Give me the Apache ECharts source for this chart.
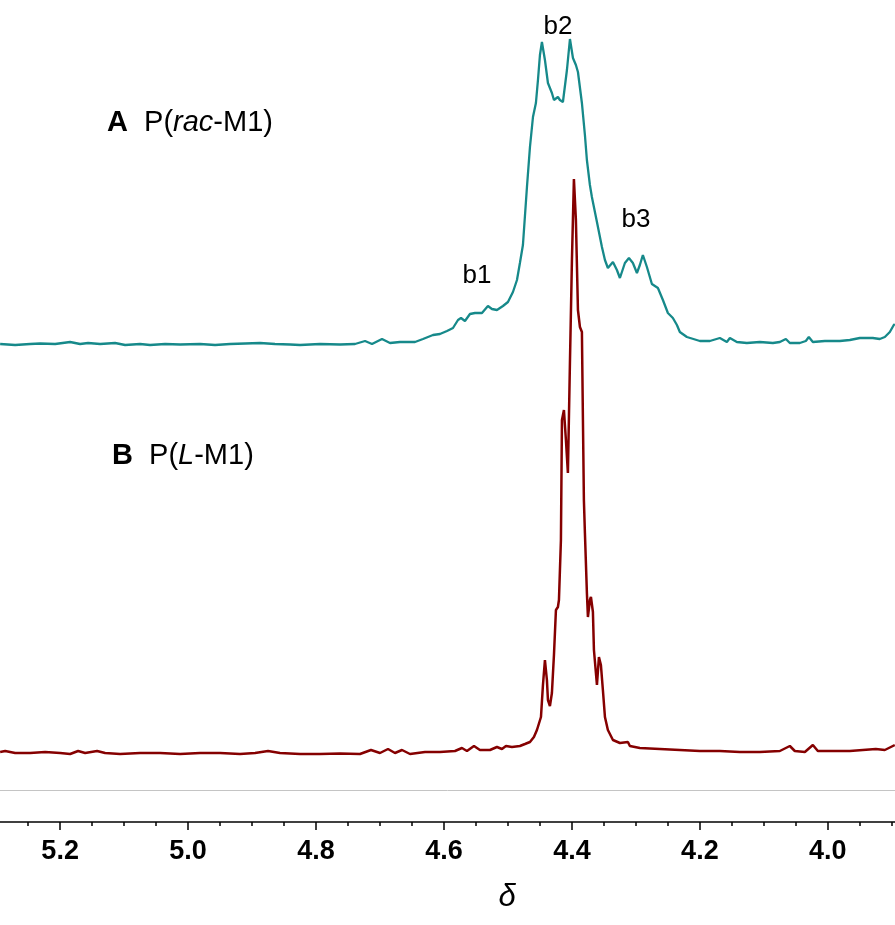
<!DOCTYPE html>
<html>
<head>
<meta charset="utf-8">
<script src="https://cdn.jsdelivr.net/npm/echarts@6/dist/echarts.min.js"></script>
<style>
html,body{margin:0;padding:0;background:#fff;}
#chart{width:895px;height:925px;}
</style>
</head>
<body>
<div id="chart"></div>
<script>
// Spectrum A: P(rac-M1) — chemical shift (ppm) and intensity above its baseline
var A_SHIFT = [5.2938,5.2703,5.2469,5.2313,5.2078,5.1844,5.1688,5.1563,5.1375,5.1141,5.0984,5.075,5.0594,5.0359,5.0125,4.9813,4.9578,4.9344,4.9109,4.8875,4.8641,4.8406,4.825,4.7938,4.7625,4.7391,4.7234,4.7125,4.6969,4.6844,4.6688,4.6453,4.6328,4.6172,4.6063,4.5953,4.5859,4.5781,4.5734,4.5672,4.5594,4.5516,4.5406,4.5313,4.525,4.5172,4.5078,4.5,4.4922,4.4859,4.4813,4.4766,4.4703,4.4656,4.4609,4.4563,4.4531,4.45,4.4469,4.4422,4.4375,4.4313,4.4281,4.4219,4.4188,4.4141,4.4078,4.4031,4.3984,4.3938,4.3906,4.3844,4.3797,4.3766,4.3719,4.3688,4.3609,4.3531,4.3484,4.3438,4.3359,4.3297,4.325,4.3172,4.3109,4.3047,4.2984,4.2938,4.2891,4.2828,4.275,4.2656,4.2578,4.25,4.2422,4.2359,4.2313,4.2203,4.2,4.1844,4.1688,4.1578,4.1531,4.1422,4.1266,4.1063,4.0859,4.075,4.0656,4.0594,4.0438,4.0344,4.0297,4.0234,4.0047,3.9813,3.9656,3.95,3.9297,3.9188,3.9109,3.9031,3.8969,3.8953];
var A_INT = [0,-1,0,0.5,0,2,0,1,0,1,-1,0,-1,0,-0.5,0,-1,0,0.5,1,0,-0.5,-1,0,-0.5,0,3,0,5,1,2,2,5,9,10,13,16,24,26,23,30,31,31,38,35,34,38,42,52,64,81,99,157,197,227,241,264,289,302,284,261,251,244,247,244,242,274,305,286,279,272,241,209,184,159,147,122,97,84,76,82,74,66,81,86,81,71,79,89,77,60,56,44,31,26,19,12,7,3,3,6,2,6,2,1,2,1,2,5,1,1,3,7,2,3,3,4,6,6,5,7,12,19,20];

// Spectrum B: P(L-M1)
var B_SHIFT = [5.2938,5.2859,5.2703,5.2469,5.2234,5.2,5.1844,5.1719,5.1609,5.1422,5.1297,5.1063,5.075,5.0438,5.0125,4.9813,4.95,4.9188,4.8953,4.875,4.8563,4.825,4.7938,4.7625,4.7313,4.7141,4.7,4.6875,4.6766,4.6656,4.6531,4.6297,4.6063,4.5828,4.5719,4.5641,4.5531,4.5438,4.5281,4.5172,4.5094,4.5031,4.4938,4.4813,4.4734,4.4656,4.4594,4.4547,4.4484,4.4453,4.4422,4.4391,4.4375,4.4344,4.4313,4.4281,4.425,4.4219,4.4203,4.4172,4.4156,4.4125,4.4094,4.4063,4.4031,4.4,4.3969,4.3938,4.3906,4.3875,4.3844,4.3828,4.3813,4.3797,4.3766,4.375,4.3719,4.3703,4.3672,4.3656,4.3609,4.3578,4.3563,4.3547,4.3516,4.3484,4.3438,4.3359,4.325,4.3125,4.3094,4.2938,4.2625,4.2313,4.2,4.1688,4.1375,4.1063,4.075,4.0594,4.0516,4.0359,4.0234,4.0156,3.9969,3.9656,3.925,3.9109,3.8953];
var B_INT = [1,2,0,0,1,0,-1,2,0,2,0,-1,0,0,-1,0,0,-1,0,2,0,-1,-1,-0.5,-1,3,0,4,0,3,-1,1,1,2,5,2,7,3,3,6,4,7,6,7,9,11,16,23,36,68,93,73,53,47,60,98,143,146,153,213,333,343,313,280,391,493,574,533,443,426,421,333,253,220,160,136,153,156,141,103,68,96,98,88,63,36,23,13,10,11,7,5,4,3,2,2,1,1,2,7,2,1,8,2,2,2,4,3,8];

var MAJOR_TICKS = [5.2, 5.0, 4.8, 4.6, 4.4, 4.2, 4.0];
var MINOR_TICKS = [5.25,5.15,5.1,5.05,4.95,4.9,4.85,4.75,4.7,4.65,4.55,4.5,4.45,4.35,4.3,4.25,4.15,4.1,4.05,3.95,3.9];

// layout constants (vertical stacking of the two traces, in pixel-like units)
var A_OFFSET = 478, B_OFFSET = 69, GRAY_LINE = 32;
var X_MIN = 3.895, X_MAX = 5.294;

function pairs(xs, ys, off) {
  var out = [];
  for (var i = 0; i < xs.length; i++) out.push([xs[i], ys[i] + off]);
  return out;
}

var chart = echarts.init(document.getElementById('chart'), null, {renderer: 'canvas'});
var LBL = "'Liberation Sans', Arial, sans-serif";

chart.setOption({
  animation: false,
  backgroundColor: '#ffffff',
  grid: {left: 0, right: 0, top: 0, bottom: 103, containLabel: false},
  xAxis: [{
    type: 'value', min: X_MIN, max: X_MAX, inverse: true,
    splitLine: {show: false},
    axisLine: {show: true, onZero: false, lineStyle: {color: '#000', width: 1.5}},
    axisTick: {show: true, length: 8, lineStyle: {color: '#000', width: 1.5}, customValues: MAJOR_TICKS},
    axisLabel: {
      show: true, customValues: MAJOR_TICKS, margin: 16,
      formatter: function (v) { return Number(v).toFixed(1); },
      fontFamily: "'Liberation Sans Narrow', 'Arial Narrow', 'Liberation Sans', sans-serif",
      fontWeight: 'bold', fontSize: 27, color: '#000'
    }
  }, {
    type: 'value', min: X_MIN, max: X_MAX, inverse: true, position: 'bottom',
    splitLine: {show: false},
    axisLine: {show: false, onZero: false},
    axisTick: {show: true, length: 4, lineStyle: {color: '#000', width: 1.5}, customValues: MINOR_TICKS},
    axisLabel: {show: false}
  }],
  yAxis: {type: 'value', min: 0, max: 822, show: false},
  series: [{
    name: 'P(rac-M1)', type: 'line', xAxisIndex: 0,
    data: pairs(A_SHIFT, A_INT, A_OFFSET),
    showSymbol: false, symbol: 'none',
    lineStyle: {color: '#16898a', width: 2.3},
    z: 3
  }, {
    name: 'P(L-M1)', type: 'line', xAxisIndex: 0,
    data: pairs(B_SHIFT, B_INT, B_OFFSET),
    showSymbol: false, symbol: 'none',
    lineStyle: {color: '#850000', width: 2.5},
    z: 4,
    markLine: {
      silent: true, symbol: 'none', animation: false,
      label: {show: false},
      lineStyle: {color: '#c4c4c4', width: 1, type: 'solid'},
      data: [{yAxis: GRAY_LINE}]
    }
  }],
  graphic: [
    {type: 'text', x: 107, y: 123, style: {
      text: '{b|A}  P({i|rac}-M1)', font: '29px ' + LBL, fill: '#000', verticalAlign: 'middle',
      rich: {b: {fontWeight: 'bold', fontSize: 29, fontFamily: LBL}, i: {fontStyle: 'italic', fontSize: 29, fontFamily: LBL}}
    }},
    {type: 'text', x: 112, y: 456, style: {
      text: '{b|B}  P({i|L}-M1)', font: '29px ' + LBL, fill: '#000', verticalAlign: 'middle',
      rich: {b: {fontWeight: 'bold', fontSize: 29, fontFamily: LBL}, i: {fontStyle: 'italic', fontSize: 29, fontFamily: LBL}}
    }},
    {type: 'text', x: 477, y: 276, style: {text: 'b1', font: '26px ' + LBL, fill: '#000', align: 'center', verticalAlign: 'middle'}},
    {type: 'text', x: 558, y: 27, style: {text: 'b2', font: '26px ' + LBL, fill: '#000', align: 'center', verticalAlign: 'middle'}},
    {type: 'text', x: 636, y: 220, style: {text: 'b3', font: '26px ' + LBL, fill: '#000', align: 'center', verticalAlign: 'middle'}},
    {type: 'text', x: 507, y: 897, style: {text: 'δ', font: 'italic 31px ' + LBL, fill: '#000', align: 'center', verticalAlign: 'middle'}}
  ]
});
</script>
</body>
</html>
